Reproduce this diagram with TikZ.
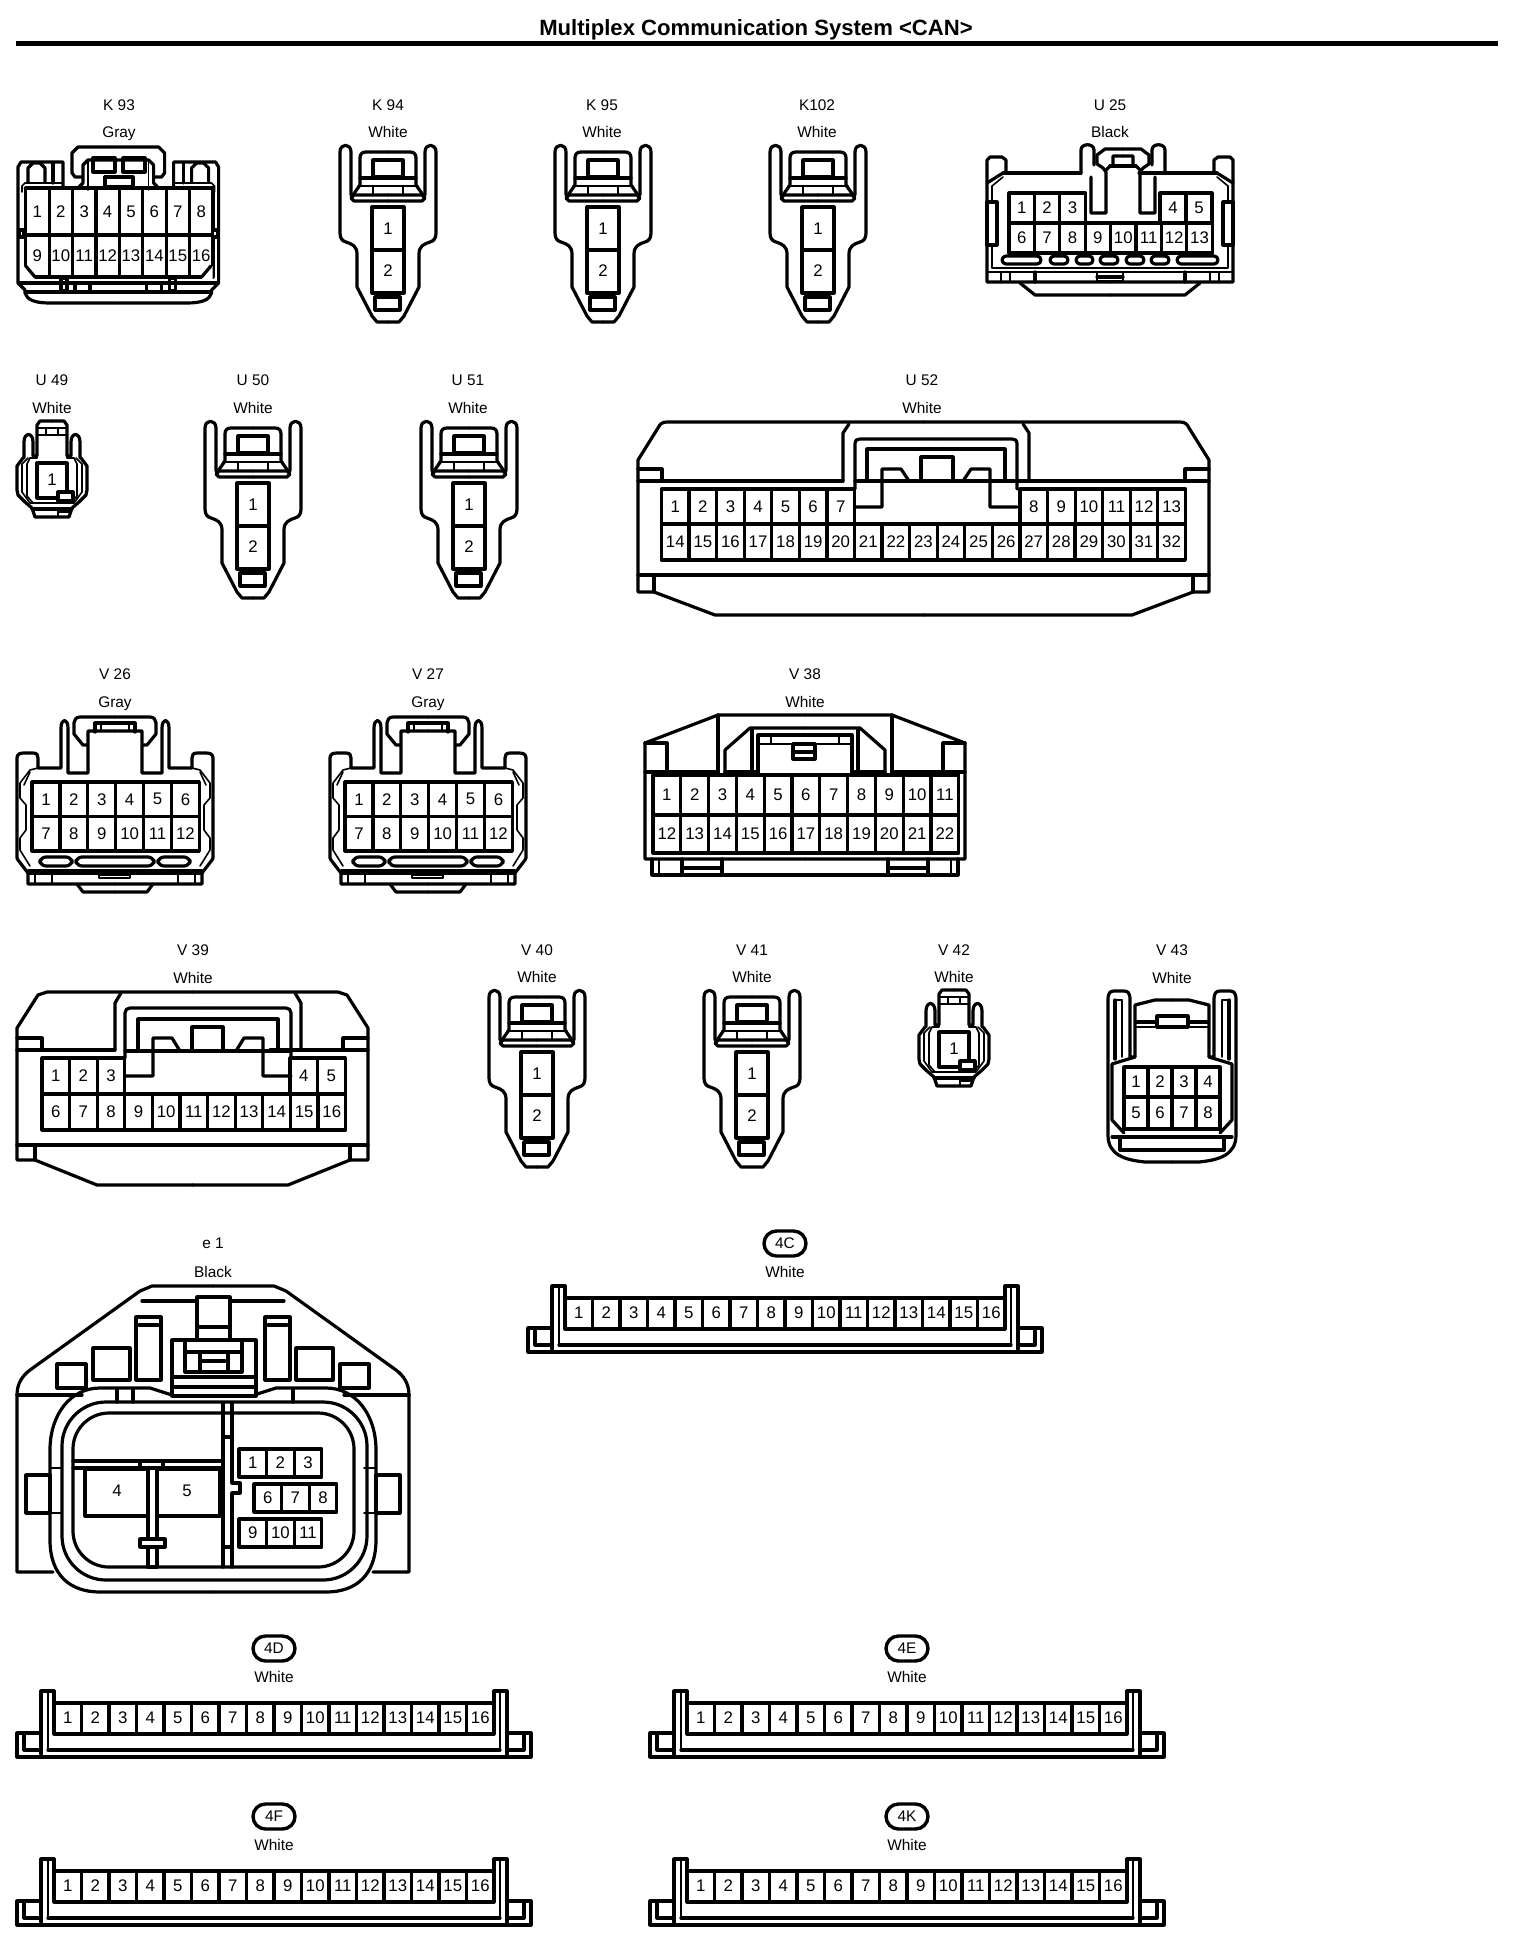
\documentclass[tikz,border=0pt]{standalone}
\usepackage{fontspec}
\setmainfont{Liberation Sans}
\usetikzlibrary{shapes.misc,calc}
\tikzset{
 ol/.style={draw=black,line width=1.6pt,line join=round,line cap=round},
 tl/.style={draw=black,line width=0.8pt,line join=round,line cap=round},
 num/.style={font=\fontsize{8.4}{8.4}\selectfont,inner sep=0pt,text=black},
 lbl/.style={font=\fontsize{7.7}{8}\selectfont,inner sep=0pt,text=black,text height=5.5pt,text depth=0pt},
 badge/.style={rounded rectangle,draw=black,line width=1.7pt,minimum width=21pt,minimum height=12.5pt,inner sep=0pt,font=\fontsize{7.7}{8}\selectfont},
 titletext/.style={font=\bfseries\fontsize{11.05}{12}\selectfont,inner sep=0pt}
}
% mirror: draw #2 and its reflection about x=#1
\newcommand\both[2]{#2\begin{scope}[shift={(2*#1,0)},xscale=-1]#2\end{scope}}
% row of cells: prefix,x0,y0,dx,h,first,last
\newcommand\cellrow[7]{%
 \foreach \n [count=\c from 0] in {#6,...,#7}{%
  \pgfmathsetmacro\xa{#2+\c*#4}%
  \draw[ol,fill=white] (\xa,#3) rectangle ++(#4,#5);
  \node[num] (#1-\n) at ($(\xa,#3)+(0.5*#4,0.5*#5)$) {\n};
 }}
\newcommand\lab[6]{% name,x,y1,y2,text,colour
 \node[lbl] (#1t) at (#2,#3) {#5};
 \node[lbl] (#1c) at (#2,#4) {#6};}
% two pin latch connector
\newcommand\twopin[3]{% name, dx, dy
 \begin{scope}[shift={(#2,#3)}]
 \both{388}{
  \draw[ol] (388,322)--(377,322)--(372,316)--(357,287)--(357,254) .. controls (357,246) and (352,244) .. (346,242) .. controls (342,241) and (340,238) .. (340,233)--(340,152) .. controls (340,143) and (351,143) .. (351,152)--(351,195);
  \draw[ol] (388,152)--(366,152) .. controls (362,152) and (360,154) .. (360,158)--(360,185)--(353,195);
  \draw[ol] (388,195)--(354,195)--(351,198)--(354,201)--(388,201);
  \draw[ol] (388,178)--(360,178);
  \draw[tl] (388,186)--(358,186);
  \draw[tl] (373,186)--(373,195);
 }
 \draw[ol] (373,160) rectangle (403,177);
 \draw[ol] (375,297) rectangle (400,310);
 \draw[ol] (372,207) rectangle (404,250);
 \draw[ol] (372,250) rectangle (404,293);
 \node[num] (#1-1) at (388,229) {1};
 \node[num] (#1-2) at (388,271) {2};
 \end{scope}}
\newcommand\onepin[3]{% name,dx,dy
 \begin{scope}[shift={(#2,#3)}]
 \both{52}{
  \draw[ol] (52,517)--(35,517)--(32,508)--(25,502)--(18,495)--(17,490)--(17,466)--(23,458)--(24,458)--(24,442) .. controls (24,432) and (33,432) .. (33,442)--(33,456)--(37,456)--(37,425)--(40,421)--(52,421);
  \draw[tl] (28,458)--(22,464)--(22,492)--(30,503)--(52,503);
  \draw[tl] (37,456)--(37,458)--(30,458)--(27,464)--(27,496)--(33,503);
  \draw[tl] (37,428)--(52,428);
  \draw[tl] (37,435)--(52,435);
  \draw[tl] (46,428)--(46,435);
  \draw[ol] (32,509)--(52,509);
 }
 \draw[ol] (37,463) rectangle (67,498);
 \draw[ol,fill=white] (58,492) rectangle (73,501);
 \draw[tl] (58,509)--(58,516);
 \draw[tl] (59,512)--(70,512);
 \node[num] (#1-1) at (52,480) {1};
 \end{scope}}
\newcommand\twelve[3]{% name,dx,dy
 \begin{scope}[shift={(#2,#3)}]
 \both{115}{
  \draw[ol] (115,884)--(28,884)--(28,873)--(18,860)--(17,858)--(17,758) .. controls (17,754) and (20,753) .. (24,753)--(33,753) .. controls (37,753) and (38,755) .. (38,758)--(38,768)--(61,768)--(61,728) .. controls (61,718) and (68,718) .. (68,728)--(68,773)--(88,773)--(88,731)--(115,731);
  \draw[tl] (38,768)--(30,770)--(20,783)--(20,798)--(26,805)--(26,830)--(20,838)--(20,850)--(30,866);
  \draw[tl] (30,772)--(24,785);
  \draw[ol] (115,717)--(80,717) .. controls (76,717) and (74,720) .. (74,723)--(74,734)--(83,745)--(87,745);
  \draw[ol] (115,723)--(95,723)--(95,732);
  \draw[tl] (101,723)--(101,731);
  \draw[ol] (77,884)--(83,892)--(115,892);
  \draw[tl] (28,870)--(115,870);
  \draw[ol] (28,873)--(115,873);
  \draw[tl] (35,873)--(35,884);
  \draw[tl] (52,873)--(52,884);
 }
 \cellrow{#1}{32}{782}{27.9}{34.5}{1}{6}
 \cellrow{#1}{32}{816.5}{27.9}{34.5}{7}{12}
 \draw[ol,rounded corners=3pt] (40,857) rectangle (72,866);
 \draw[ol,rounded corners=3pt] (76,857) rectangle (154,866);
 \draw[ol,rounded corners=3pt] (158,857) rectangle (190,866);
 \draw[tl] (99,875) rectangle (130,878);
 \end{scope}}
\newcommand\strip[4]{% name,cx,pintop,badge
 \begin{scope}[shift={(#2,#3)}]
 \both{0}{
  \draw[ol] (-220,-12)--(-233,-12)--(-233,51);
  \draw[ol] (-220,-12)--(-220,0);
  \draw[tl] (-226,-12)--(-226,47);
  \draw[ol] (-233,30)--(-257,30)--(-257,54)--(0,54);
  \draw[ol] (-250,30)--(-250,47)--(-233,47);
  \draw[ol] (-226,47)--(0,47);
  \draw[tl] (-233,51)--(-230,54);
 }
 \foreach \n [count=\c from 0] in {1,...,16}{
  \pgfmathsetmacro\xa{-220+\c*27.5}
  \draw[ol] (\xa,0) rectangle ++(27.5,31);
  \node[num] (#1-\n) at ($(\xa,0)+(13.75,15)$) {\n};
 }
 \node[badge] (#1b) at (0,-54.5) {#4};
 \node[lbl] (#1c) at (0,-26) {White};
 \end{scope}}
\begin{document}
\begin{tikzpicture}[x=0.5pt,y=-0.5pt]
\useasboundingbox (0,0) rectangle (1520,1948);
\fill[white] (0,0) rectangle (1520,1948);
\node[titletext] (title) at (756,30) {Multiplex Communication System <CAN>};
\coordinate (ruleL) at (16,43.5);
\coordinate (ruleR) at (1498,43.5);
\draw[line width=2.2pt] (ruleL)--(ruleR);

%% K93
\lab{k93}{119}{105}{132}{K 93}{Gray}
\cellrow{k93}{25.7}{188}{23.4}{47}{1}{8}
\cellrow{k93}{25.7}{235}{23.4}{42}{9}{16}
\both{118.3}{
 \fill[white] (24,266)--(24,279)--(35,279)--cycle;
 \draw[ol] (25.7,266)--(35,277);
 \draw[ol] (118,303)--(50,303) .. controls (35,303) and (27,300) .. (25,293)--(25,290)--(18,283)--(18,167)--(21,162)--(63,162)--(63,187);
 \draw[ol] (118,147)--(78,147)--(72,153)--(72,173)--(75,177)--(82,177);
 \draw[ol] (25,188)--(78,188)--(83,183)--(83,165)--(88,160)--(118,160);
 \draw[tl] (88,160)--(88,190);
 \draw[tl] (22,192)--(22,186)--(25,183)--(63,183);
 \draw[ol] (28,182)--(28,168)--(33,163)--(40,163)--(45,168)--(45,182);
 \draw[ol] (53,163)--(53,183);
 \draw[ol] (20,283)--(118,283);
 \draw[ol] (26,292)--(118,292);
 \draw[ol] (61,278) rectangle (67,291);
 \draw[ol] (75,283)--(75,292);
 \draw[ol] (90,283)--(90,292);
 \draw[ol,fill=white] (19,230) rectangle (24,237);
}
\draw[ol] (93,158) rectangle (115,172);
\draw[ol] (123,158) rectangle (145,172);
\draw[ol] (105,177) rectangle (133,187);

%% two-pin group
\lab{k94}{388}{105}{132}{K 94}{White}
\twopin{k94}{0}{0}
\lab{k95}{602}{105}{132}{K 95}{White}
\twopin{k95}{215}{0}
\lab{k102}{817}{105}{132}{K102}{White}
\twopin{k102}{430}{0}
\lab{u50}{253}{380}{408}{U 50}{White}
\twopin{u50}{-135}{276}
\lab{u51}{468}{380}{408}{U 51}{White}
\twopin{u51}{81}{276}
\lab{v40}{537}{950}{977}{V 40}{White}
\twopin{v40}{149}{845}
\lab{v41}{752}{950}{977}{V 41}{White}
\twopin{v41}{364}{845}

%% U25
\lab{u25}{1110}{105}{132}{U 25}{Black}
\cellrow{u25}{1009}{193}{25.4}{30}{1}{3}
\cellrow{u25}{1160}{193}{26}{30}{4}{5}
\cellrow{u25}{1009}{223}{25.4}{30}{6}{13}
\both{1110}{
 \draw[ol] (1110,282)--(987,282)--(987,160)--(990,157)--(1002,157)--(1006,160)--(1006,173);
 \draw[ol] (1003,173)--(1081,173);
 \draw[ol] (1003,173)--(987,183);
 \draw[tl] (1003,177)--(992,186)--(992,268)--(1110,268);
 \draw[ol,fill=white] (987,202) rectangle (997,245);
 \draw[tl] (987,272)--(1110,272);
 \draw[ol] (1020,283)--(1035,295)--(1110,295);
 \draw[tl] (1001,272)--(1001,282);
 \draw[tl] (1010,272)--(1010,282);
 \draw[ol] (1035,272)--(1035,282);
}
\draw[ol,fill=white,rounded corners=2pt] (1002,256) rectangle (1041,264);
\draw[ol,fill=white,rounded corners=2pt] (1050,256) rectangle (1068,264);
\draw[ol,fill=white,rounded corners=2pt] (1076,256) rectangle (1093,264);
\draw[ol,fill=white,rounded corners=2pt] (1100,256) rectangle (1118,264);
\draw[ol,fill=white,rounded corners=2pt] (1126,256) rectangle (1144,264);
\draw[ol,fill=white,rounded corners=2pt] (1151,256) rectangle (1169,264);
\draw[ol,fill=white,rounded corners=2pt] (1177,256) rectangle (1218,264);
\both{1123}{
 \draw[ol] (1081,173)--(1081,150) .. controls (1081,143) and (1094,143) .. (1094,150)--(1094,165);
 \draw[ol] (1091,177)--(1091,213)--(1106,213)--(1106,172)--(1103,168)--(1097,164)--(1097,155)--(1105,149)--(1123,149);
 \draw[ol] (1106,170)--(1110,166)--(1113,166)--(1113,156)--(1123,156);
 \draw[ol] (1110,166)--(1123,166);
}
\draw[tl] (1097,272) rectangle (1123,281);
\draw[ol] (1097,277)--(1123,277);

%% U49
\lab{u49}{52}{380}{408}{U 49}{White}
\onepin{u49}{0}{0}
\lab{v42}{954}{950}{977}{V 42}{White}
\onepin{v42}{902}{569}

%% U52
\lab{u52}{922}{380}{408}{U 52}{White}
\cellrow{u52}{661.5}{489}{27.57}{35}{1}{7}
\cellrow{u52}{1020}{489}{27.57}{35}{8}{13}
\cellrow{u52}{661.5}{524}{27.57}{36}{14}{32}
\both{923.5}{
 \draw[ol] (923.5,422)--(667,422) .. controls (662,422) and (660,424) .. (658,428)--(638,460)--(638,592)--(654,592)--(715,615)--(923.5,615);
 \draw[ol] (638,481)--(843,481);
 \draw[ol] (638,469)--(662,469)--(662,481);
 \draw[ol] (638,575)--(923.5,575);
 \draw[ol] (654,575)--(654,592);
}
\both{936}{
 \draw[ol] (843,481)--(843,433)--(849,424);
 \draw[ol] (855,489)--(855,444) .. controls (855,440) and (857,439) .. (860,439)--(936,439);
 \draw[ol] (867,481)--(867,449)--(936,449);
 \draw[ol] (855,481)--(936,481);
 \draw[ol] (855,507)--(882,507)--(882,469)--(901,469)--(909,481);
}
\draw[ol] (921,457) rectangle (953,481);

%% V26 V27
\lab{v26}{115}{674}{702}{V 26}{Gray}
\twelve{v26}{0}{0}
\lab{v27}{428}{674}{702}{V 27}{Gray}
\twelve{v27}{313}{0}

%% V38
\lab{v38}{805}{674}{702}{V 38}{White}
\cellrow{v38}{653}{775}{27.8}{40}{1}{11}
\cellrow{v38}{653}{815}{27.8}{38}{12}{22}
\both{805}{
 \draw[ol] (805,859)--(645,859)--(645,743)--(718,715)--(805,715);
 \draw[ol] (645,743)--(667,743)--(667,772)--(645,772);
 \draw[ol] (667,772)--(718,772);
 \draw[ol] (718,715)--(718,775);
 \draw[ol] (725,775)--(725,750)--(750,728)--(805,728);
 \draw[ol] (725,772)--(758,772);
 \draw[ol] (752,730)--(752,772);
 \draw[ol] (758,772)--(758,735)--(805,735);
 \draw[tl] (758,744)--(805,744);
 \draw[tl] (771,735)--(771,744);
 \draw[ol] (652,859)--(652,875)--(805,875);
 \draw[tl] (659,859)--(659,875);
 \draw[ol] (682,859)--(682,875);
 \draw[ol] (722,859)--(722,875);
 \draw[ol] (682,868)--(722,868);
}
\draw[ol] (793,744) rectangle (815,759);
\draw[ol] (793,752)--(815,752);

%% V39
\lab{v39}{193}{950}{978}{V 39}{White}
\cellrow{v39}{42}{1058}{27.6}{36}{1}{3}
\cellrow{v39}{290}{1058}{27.6}{36}{4}{5}
\cellrow{v39}{42}{1094}{27.6}{36}{6}{16}
\both{192.5}{
 \draw[ol] (192.5,992)--(47,992)--(38,995)--(17,1028)--(17,1160)--(35,1160)--(97,1185)--(192.5,1185);
 \draw[ol] (17,1050)--(115,1050);
 \draw[ol] (17,1038)--(42,1038)--(42,1050);
 \draw[ol] (17,1145)--(192.5,1145);
 \draw[ol] (35,1145)--(35,1160);
}
\both{208}{
 \draw[ol] (115,1050)--(115,1003)--(121,993);
 \draw[ol] (125,1058)--(125,1013) .. controls (125,1010) and (127,1008) .. (130,1008)--(208,1008);
 \draw[ol] (138,1050)--(138,1019)--(208,1019);
 \draw[ol] (125,1051)--(208,1051);
 \draw[ol] (125,1076)--(153,1076)--(153,1038)--(172,1038)--(180,1051);
}
\draw[ol] (192,1027) rectangle (223,1051);

%% V43
\lab{v43}{1172}{950}{978}{V 43}{White}
\cellrow{v43}{1124}{1067}{24}{30}{1}{4}
\cellrow{v43}{1124}{1097}{24}{32}{5}{8}
\both{1172}{
 \draw[ol] (1172,1162)--(1145,1162) .. controls (1125,1160) and (1108,1155) .. (1108,1135)--(1108,1000) .. controls (1108,993) and (1110,991) .. (1114,991)--(1124,991) .. controls (1128,991) and (1130,993) .. (1130,1000)--(1130,1057)--(1135,1057)--(1135,1005)--(1155,1000)--(1172,1000);
 \draw[ol] (1115,1000)--(1115,1059);
 \draw[tl] (1122,1000)--(1122,1057);
 \draw[tl] (1115,1000)--(1122,1000);
 \draw[ol] (1135,1057)--(1112,1064)--(1112,1120)--(1124,1133);
 \draw[ol] (1136,1022)--(1172,1022);
 \draw[tl] (1136,1027)--(1172,1027);
 \draw[ol] (1120,1150)--(1172,1150);
 \draw[ol] (1120,1150)--(1120,1138);
 \draw[ol] (1112,1137)--(1172,1137);
}
\draw[ol,fill=white] (1157,1016) rectangle (1188,1027);

%% e1
\lab{e1}{213}{1243}{1272}{e 1}{Black}
\both{213}{
 \draw[ol] (213,1286)--(152,1286)--(140,1291)--(30,1370) .. controls (22,1376) and (17,1384) .. (17,1395)--(17,1572)--(53,1572);
 \draw[ol] (17,1395)--(82,1395);
 \draw[ol] (172,1395)--(150,1388)--(100,1388) .. controls (70,1388) and (50,1415) .. (50,1450)--(50,1540) .. controls (50,1575) and (70,1592) .. (100,1592)--(213,1592);
 \draw[ol] (142,1301)--(213,1301);
 \draw[ol,fill=white] (57,1364) rectangle (86,1388);
 \draw[ol,fill=white] (93,1348) rectangle (130,1380);
 \draw[ol,fill=white] (136,1317) rectangle (161,1380);
 \draw[ol] (139,1325)--(158,1325);
 \draw[ol,fill=white] (26,1475) rectangle (50,1513);
 \draw[tl] (50,1468)--(62,1468);
 \draw[tl] (50,1513)--(62,1513);
}
\draw[ol,rounded corners=22pt] (62,1402) rectangle (367,1580);
\draw[ol,rounded corners=18pt] (73,1413) rectangle (354,1567);
\draw[ol] (117,1390)--(117,1402);
\draw[ol] (133,1390)--(133,1402);
\draw[ol] (293,1390)--(293,1402);
\draw[ol] (223,1403)--(223,1413);
\draw[ol] (232,1403)--(232,1413);
% centre block
\draw[ol,fill=white] (172,1340) rectangle (256,1396);
\draw[ol,fill=white] (197,1297) rectangle (230,1340);
\draw[ol] (197,1327)--(230,1327);
\draw[ol] (185,1341)--(185,1372)--(242,1372)--(242,1341);
\draw[ol] (186,1352)--(241,1352);
\draw[ol] (200,1352)--(200,1372);
\draw[ol] (228,1352)--(228,1372);
\draw[ol] (202,1361)--(225,1361);
\draw[ol] (172,1377)--(256,1377);
\draw[ol] (172,1387)--(256,1387);
% insides
\draw[ol] (223,1413)--(223,1567);
\draw[ol] (232,1413)--(232,1483)--(240,1483)--(240,1493)--(232,1493)--(232,1567);
\draw[ol] (223,1437)--(232,1437);
\draw[ol] (223,1547)--(232,1547);
\draw[ol] (73,1461)--(223,1461);
\draw[ol] (73,1468)--(223,1468);
\draw[ol] (140,1462)--(140,1467);
\draw[ol] (163,1462)--(163,1467);
\draw[ol] (85,1469) rectangle (220,1516);
\draw[ol,fill=white] (148,1468) rectangle (157,1567);
\draw[ol,fill=white] (140,1539) rectangle (165,1547);
\node[num] (e1-4) at (117,1491) {4};
\node[num] (e1-5) at (187,1491) {5};
\cellrow{e1}{239}{1449}{27.6}{28}{1}{3}
\cellrow{e1}{254}{1484}{27.6}{28}{6}{8}
\cellrow{e1}{239}{1519}{27.6}{28}{9}{11}

%% strips
\strip{c4C}{785}{1298}{4C}
\strip{c4D}{274}{1703}{4D}
\strip{c4E}{907}{1703}{4E}
\strip{c4F}{274}{1871}{4F}
\strip{c4K}{907}{1871}{4K}
\end{tikzpicture}
\end{document}
